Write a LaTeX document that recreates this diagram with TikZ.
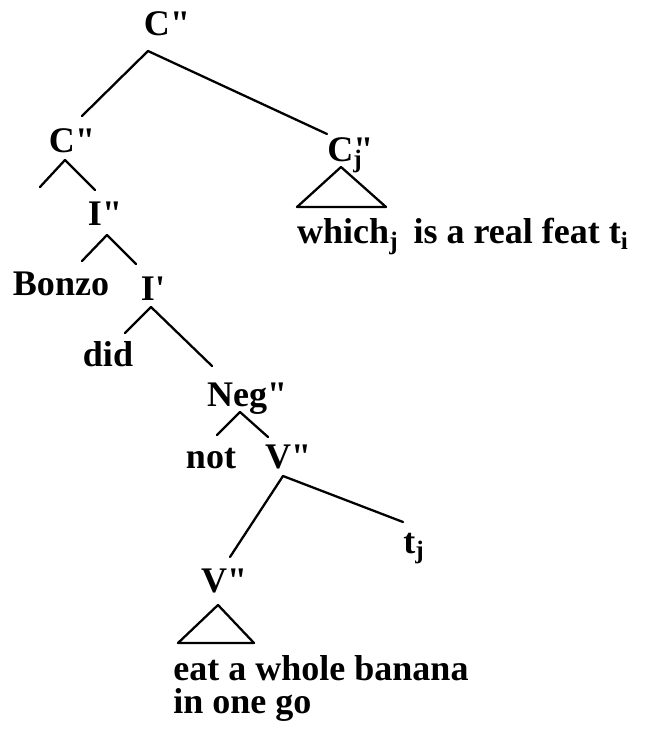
\documentclass[tikz,border=0pt]{standalone}
\usepackage{fontspec}
\newfontfamily\treefont{Liberation Serif}

\begin{document}
\begin{tikzpicture}[
    x=0.02cm, y=-0.02cm,
    cat/.style={font=\treefont\bfseries\fontsize{20.5}{19}\selectfont, inner sep=0pt, anchor=base},
    yield/.style={cat, align=left, anchor=north west},
    branch/.style={line width=1.3pt, line cap=round, line join=round}
]
    \useasboundingbox (0,0) rectangle (645,729);

    \node[cat] (cpp) at (167,36) {C"};
    \node[cat] (cpl) at (72,153) {C"};
    \node[cat] (cjpp) at (345,162) {C\rlap{"}\textsubscript{j}};
    \node[cat] (which) at (466,244) {which\textsubscript{j}\, is a real feat t\textsubscript{i}\,};
    \node[cat] (ipp) at (105,226) {I"};
    \node[cat] (bonzo) at (61,295) {Bonzo};
    \node[cat] (ip) at (153,300) {I'};
    \node[cat] (did) at (108,366) {did};
    \node[cat] (negpp) at (247,406) {Neg"};
    \node[cat] (not) at (211,468) {not};
    \node[cat] (vpp) at (288,468) {V"};
    \node[cat] (vpl) at (224,592) {V"};
    \node[cat] (tj) at (414,553) {t\textsubscript{j}};
    \node[yield] (eat) at (173,655) {eat a whole banana\\in one go};

    % branching points under each mother node
    \coordinate (cpp-foot) at ([shift={(-19,15)}]cpp.base);
    \coordinate (cpl-foot) at ([shift={(-7,7)}]cpl.base);
    \coordinate (cpl-stub) at (40,187);
    \coordinate (ipp-foot) at ([shift={(2,9)}]ipp.base);
    \coordinate (ip-foot) at ([shift={(-2,7)}]ip.base);
    \coordinate (negpp-foot) at ([shift={(-7,6)}]negpp.base);
    \coordinate (vpp-foot) at ([shift={(-5,8)}]vpp.base);

    \draw[branch] (cpp-foot) -- ([shift={(10,-37)}]cpl.base);
    \draw[branch] (cpp-foot) -- ([shift={(-18,-28)}]cjpp.base);
    \draw[branch] (cpl-foot) -- (cpl-stub);
    \draw[branch] (cpl-foot) -- ([shift={(-10,-36)}]ipp.base);
    \draw[branch] (ipp-foot) -- ([shift={(21,-34)}]bonzo.base);
    \draw[branch] (ipp-foot) -- ([shift={(-17,-36)}]ip.base);
    \draw[branch] (ip-foot) -- ([shift={(17,-33)}]did.base);
    \draw[branch] (ip-foot) -- ([shift={(-35,-40)}]negpp.base);
    \draw[branch] (negpp-foot) -- ([shift={(6,-33)}]not.base);
    \draw[branch] (negpp-foot) -- ([shift={(-20,-31)}]vpp.base);
    \draw[branch] (vpp-foot) -- ([shift={(6,-35)}]vpl.base);
    \draw[branch] (vpp-foot) -- ([shift={(-11,-31)}]tj.base);

    % triangles over the unanalysed strings
    \draw[branch] ([shift={(-4,5)}]cjpp.base) -- ([shift={(-48,45)}]cjpp.base)
        -- ([shift={(41,45)}]cjpp.base) -- cycle;
    \draw[branch] ([shift={(-6,13)}]vpl.base) -- ([shift={(-46,51)}]vpl.base)
        -- ([shift={(30,51)}]vpl.base) -- cycle;
\end{tikzpicture}
\end{document}
